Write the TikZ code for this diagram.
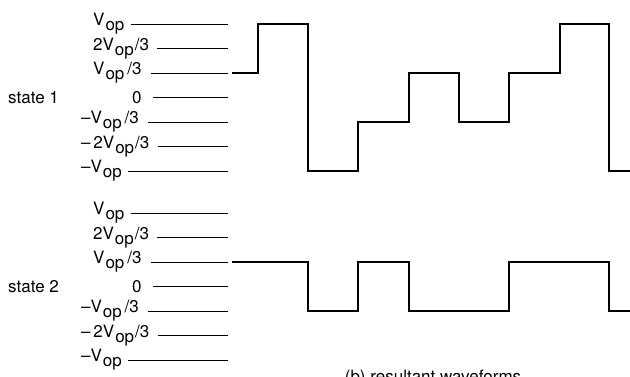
\documentclass[tikz,border=0pt]{standalone}
\usepackage{fontspec}
\setmainfont{TeX Gyre Heros}
\usetikzlibrary{positioning, calc}
\newcommand{\Vop}{V\kern1pt\raisebox{-5pt}{op}}
\newcommand{\mn}{\textendash}

\begin{document}
\begin{tikzpicture}[x=1pt, y=-1pt,
    lvl/.style={line width=0.9pt},
    wave/.style={line width=2.6pt, line join=miter},
    lab/.style={anchor=west, inner sep=0pt, font=\fontsize{17}{20}\selectfont}]
  \useasboundingbox (0,0) rectangle (630,377);

  % voltage scales, one per state
  \foreach \s/\dy in {1/0, 2/189} {
    \begin{scope}[shift={(0,\dy)}]
      \coordinate (r\s) at (228,0);
      \node[lab] (st\s) at (8,97.5) {state \s};

      \node[lab] (a\s) at (93,24) {\Vop};
      \node[lab] (b\s) at (93,48.5) {2\Vop\kern1pt/3};
      \node[lab] (c\s) at (93,73) {\Vop\,/3};
      \node[lab] (d\s) at (132,97.5) {0};
      \node[lab] (e\s) at (81,122) {\mn\Vop\,/3};
      \node[lab] (f\s) at (81,146.5) {\mn\,2\Vop\kern1pt/3};
      \node[lab] (g\s) at (81,171) {\mn\Vop};

      \draw[lvl] ([xshift=6pt]a\s.east) -- (a\s.east -| r\s);
      \draw[lvl] ([xshift=8pt]b\s.east) -- (b\s.east -| r\s);
      \draw[lvl] ([xshift=9pt]c\s.east) -- (c\s.east -| r\s);
      \draw[lvl] ([xshift=11pt]d\s.east) -- (d\s.east -| r\s);
      \draw[lvl] ([xshift=9pt]e\s.east) -- (e\s.east -| r\s);
      \draw[lvl] ([xshift=8pt]f\s.east) -- (f\s.east -| r\s);
      \draw[lvl] ([xshift=6pt]g\s.east) -- (g\s.east -| r\s);
    \end{scope}
  }

  % resultant waveforms
  \draw[wave] (232,73) -| (258,24) -| (308,171) -| (358,122) -| (409,73)
    -| (459,122) -| (509,73) -| (560,24) -| (609,171) -- (632,171);
  \draw[wave] (232,262) -| (308,311) -| (358,262) -| (409,311) -| (509,262)
    -| (609,311) -- (632,311);

  \node[lab, anchor=north] (cap) at (433,369.5) {(b) resultant waveforms};
\end{tikzpicture}
\end{document}
